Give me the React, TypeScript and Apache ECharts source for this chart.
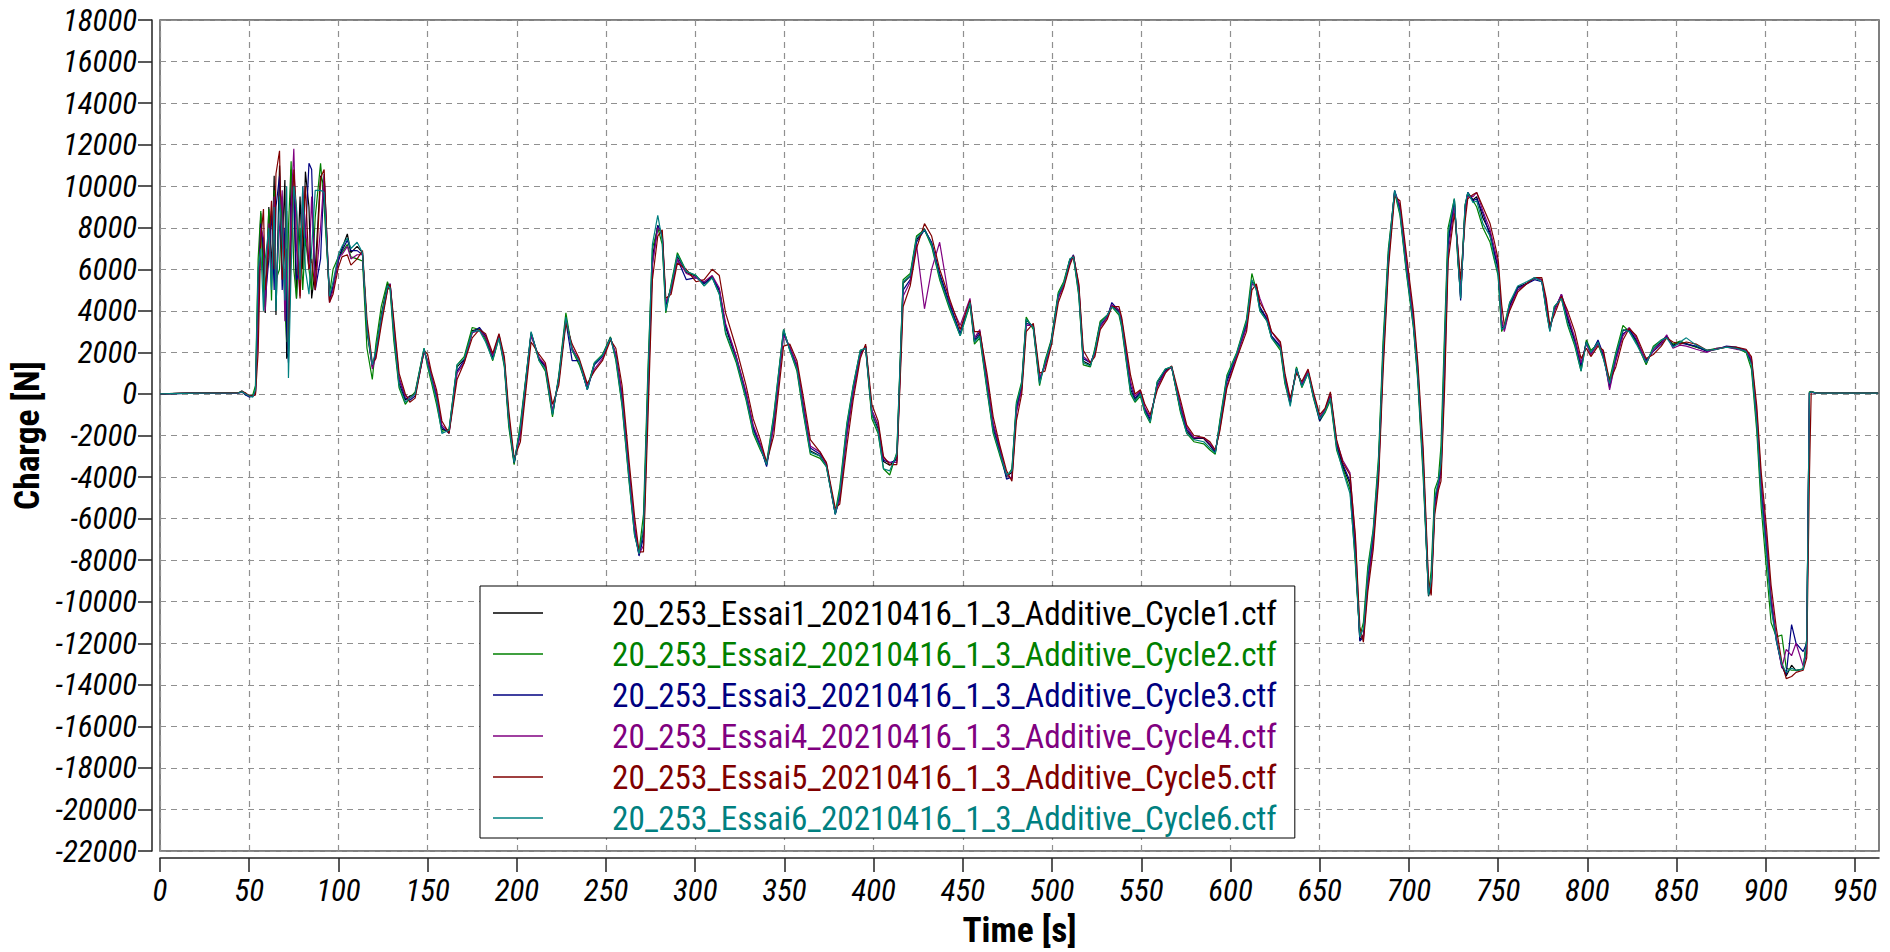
import React, { useEffect, useRef } from "react";
import * as echarts from "echarts";

// ---------- data ----------
const timeS: number[] = [
  0, 20, 44, 46, 48, 50, 52, 53.5, 55, 56.5,
  58, 59, 61, 62.5, 64, 65, 67, 68.5, 70, 71,
  72, 73.5, 75, 76.5, 78.5, 80, 81.5, 83.5, 85, 87,
  90, 92, 95, 97, 100, 102, 105, 107, 110.5, 113.5,
  116, 119, 121, 124, 127.5, 129, 131, 134, 137.5, 140,
  143, 148, 150, 152, 155, 158, 162, 166.5, 170.5, 175,
  179, 182.5, 186.5, 190, 193, 195.5, 198.5, 202, 208, 212.5,
  216, 220, 223.5, 227.5, 231, 235, 239.5, 243.5, 248, 252.5,
  255.5, 259, 263, 266, 268.5, 271, 273.5, 276, 279, 281.5,
  283.5, 286.5, 290, 295, 300.5, 305, 309.5, 313.5, 317, 323,
  328.5, 332.5, 336.5, 340, 344, 349.5, 353, 357, 360.5, 364.5,
  370, 373.5, 378.5, 381, 385, 388.5, 392.5, 395.5, 399, 402.5,
  405.5, 409, 413, 416.5, 420.5, 424, 428.5, 432.5, 437, 442.5,
  448.5, 454, 456.5, 459.5, 463.5, 467, 470.5, 474.5, 477.5, 480,
  483, 485.5, 489.5, 493, 496, 499.5, 503.5, 506.5, 510, 512,
  515, 517.5, 521.5, 524, 527, 531, 533.5, 537.5, 539, 544,
  546.5, 549.5, 552, 555, 559, 563.5, 567, 572, 575.5, 579.5,
  585, 588.5, 591.5, 594, 598, 603.5, 609, 612, 614.5, 616.5,
  620.5, 623, 628, 630.5, 633.5, 637, 640, 643.5, 646.5, 650,
  653, 656, 659.5, 663, 667, 670, 672.5, 674.5, 677, 680,
  683, 685.5, 688.5, 692, 695, 698.5, 702.5, 705, 708, 711,
  712.5, 714.5, 716.5, 718, 720, 722, 725.5, 727.5, 729, 731.5,
  733, 736, 738, 741.5, 745.5, 748, 750, 752, 753.5, 756.5,
  761, 766, 770.5, 774.5, 777, 779, 781.5, 785.5, 789, 793,
  796.5, 799.5, 802, 806, 809, 812.5, 816, 820, 823.5, 827.5,
  833, 837, 841.5, 844.5, 848, 852, 855.5, 861, 867, 872.5,
  878, 883.5, 889, 892, 895, 897.5, 900.5, 903, 906, 909,
  911.5, 914.5, 917, 921, 923, 924.5, 925.5, 928.5, 963,
];

const cycle1: number[] = [
  0, 40, 50, 150, 0, -100, -100, 100, 5000, 8700,
  6000, 3900, 9000, 6000, 10500, 3800, 11000, 7000, 10300, 1700,
  2000, 10800, 9500, 4600, 9500, 6000, 10700, 9000, 4600, 6000,
  10500, 10000, 4500, 5200, 6500, 7000, 7700, 6800, 7100, 6800,
  3000, 1300, 2000, 3800, 5300, 5200, 3000, 500, -300, -100,
  0, 2150, 1500, 800, -200, -1700, -1800, 1300, 1650, 3050,
  3130, 2700, 1730, 2780, 1470, -1330, -3340, -1680, 2960, 1650,
  1300, -980, 770, 3660, 2170, 1560, 245, 1470, 1820, 2700,
  1820, -280, -3955, -6580, -7720, -6580, 420, 6545, 8120, 7600,
  4270, 5145, 6630, 5845, 5670, 5320, 5670, 4970, 3220, 1650,
  -50, -1680, -2555, -3430, -1330, 3045, 2170, 1295, -630, -2730,
  -2990, -3430, -5790, -4830, -1680, 245, 1995, 2260, -980, -1680,
  -3255, -3430, -3080, 5320, 5670, 7420, 7945, 7245, 5670, 4270,
  2870, 4445, 2520, 2870, 420, -1680, -2730, -3955, -3780, -630,
  420, 3570, 3220, 595, 1470, 2520, 4795, 5280, 6465, 6630,
  4945, 1570, 1400, 2075, 3425, 3765, 4270, 3930, 3425, 220,
  -290, 50, -790, -1300, 555, 1150, 1315, -790, -1800, -2145,
  -2145, -2480, -2820, -1470, 725, 1905, 3425, 5450, 5115, 4100,
  3595, 2750, 2245, 725, -455, 1230, 390, 1065, -120, -1130,
  -790, -120, -2480, -3495, -4340, -7715, -11850, -11600, -8895, -6870,
  -3495, 1905, 6635, 9760, 8830, 6130, 3425, 895, -3495, -9740,
  -9235, -5180, -4340, -3500, 2000, 7400, 9345, 6545, 4620, 9000,
  9695, 9345, 9500, 8470, 7770, 6720, 6020, 3220, 3130, 4270,
  5145, 5320, 5580, 5495, 4095, 3045, 4095, 4710, 3570, 2520,
  1295, 2520, 1995, 2520, 1820, 420, 1820, 3045, 3130, 2520,
  1470, 2170, 2520, 2780, 2345, 2520, 2430, 2260, 2080, 2170,
  2260, 2200, 2080, 1470, -1330, -4830, -7455, -10080, -11830, -13055,
  -13580, -13055, -13320, -13230, -11830, 70, 105, 35, 35,
];

const cycle2: number[] = [
  0, 50, 60, 100, -50, -100, -50, 400, 6500, 8800,
  5000, 4200, 8900, 4500, 9800, 5500, 6000, 9500, 4200, 2500,
  8000, 11200, 6000, 4600, 8000, 5000, 7500, 6000, 5000, 8500,
  11100, 9000, 4800, 6000, 6600, 6800, 7200, 6600, 6500, 6400,
  2200, 700, 2400, 4200, 5400, 5000, 2600, 300, -500, -200,
  100, 2200, 1300, 600, -500, -1800, -1700, 1400, 1800, 3200,
  3100, 2600, 1600, 2700, 1300, -1600, -3400, -1400, 2900, 1600,
  1100, -1100, 900, 3900, 2100, 1400, 300, 1500, 1900, 2750,
  1600, -600, -4300, -6800, -7600, -5800, 1200, 7000, 8000, 7200,
  3900, 5300, 6800, 5900, 5700, 5200, 5600, 4800, 2900, 1500,
  -300, -1900, -2700, -3300, -1000, 3100, 2100, 1100, -900, -2900,
  -3100, -3500, -5700, -4500, -1400, 400, 2100, 2200, -1200, -1900,
  -3600, -3900, -2800, 5500, 5800, 7600, 7900, 7100, 5500, 4100,
  2800, 4300, 2400, 2700, 200, -1900, -2900, -4000, -3600, -400,
  600, 3700, 3100, 400, 1600, 2600, 4900, 5400, 6500, 6600,
  4700, 1400, 1300, 2200, 3500, 3800, 4200, 3800, 3200, 0,
  -400, -100, -900, -1400, 600, 1200, 1300, -900, -1900, -2300,
  -2400, -2700, -2900, -1300, 900, 2000, 3600, 5800, 5000, 4000,
  3500, 2700, 2100, 500, -500, 1300, 300, 1000, -200, -1300,
  -900, -300, -2700, -3600, -4600, -8200, -11700, -11000, -8300, -6500,
  -3000, 2500, 7000, 9700, 8600, 5900, 3200, 600, -4000, -9600,
  -8500, -4600, -4100, -2500, 3000, 8000, 9400, 6300, 5000, 9100,
  9600, 9300, 9000, 8000, 7300, 6400, 5700, 3000, 3300, 4400,
  5000, 5300, 5600, 5500, 4000, 3100, 4200, 4600, 3300, 2300,
  1100, 2600, 2100, 2400, 1700, 700, 2000, 3300, 3000, 2500,
  1400, 2300, 2600, 2750, 2400, 2550, 2400, 2250, 2100, 2200,
  2250, 2200, 2000, 1200, -1800, -5500, -8500, -11000, -11700, -11600,
  -13200, -13300, -13300, -13250, -11800, 100, 120, 40, 40,
];

const cycle3: number[] = [
  0, 40, 50, 100, -50, -150, -100, 50, 3500, 8200,
  7000, 4500, 6500, 8800, 5000, 9000, 10500, 5000, 8000, 3000,
  1500, 9000, 10000, 5500, 6000, 9500, 7500, 11100, 10800, 5000,
  6500, 10600, 4700, 5100, 6400, 6900, 7400, 6900, 6900, 6700,
  3200, 1400, 1900, 3600, 5100, 5300, 3200, 700, -200, -300,
  -100, 2050, 1600, 900, -100, -1600, -1900, 1100, 1600, 2950,
  3200, 2800, 1800, 2850, 1550, -1200, -3300, -1800, 2900, 1700,
  1350, -900, 700, 3500, 1600, 1600, 200, 1400, 1800, 2700,
  1900, -100, -3900, -6600, -7800, -6900, 0, 6300, 8100, 7700,
  4300, 5000, 6500, 5500, 5600, 5300, 5600, 5000, 3300, 1800,
  0, -1600, -2500, -3500, -1500, 2900, 2200, 1400, -500, -2600,
  -2900, -3300, -5800, -5000, -1900, 100, 1900, 2300, -800, -1500,
  -3200, -3300, -3200, 5000, 5500, 7300, 7900, 7300, 5800, 4400,
  2900, 4500, 2600, 3000, 600, -1500, -2600, -4100, -4000, -800,
  300, 3400, 3300, 700, 1400, 2500, 4700, 5200, 6400, 6700,
  5100, 1700, 1500, 2000, 3300, 3700, 4400, 4000, 3500, 400,
  -200, 100, -700, -1200, 400, 1100, 1300, -600, -1700, -2100,
  -2100, -2400, -2800, -1600, 600, 1850, 3300, 5300, 5200, 4200,
  3600, 2800, 2300, 800, -400, 1200, 450, 1100, -50, -1300,
  -800, -50, -2400, -3400, -4200, -7400, -11900, -11700, -9000, -7000,
  -3700, 1700, 6500, 9800, 9000, 6300, 3500, 1000, -3300, -9600,
  -9300, -5300, -4400, -3700, 1500, 7200, 9200, 6700, 4500, 8900,
  9700, 9300, 9400, 8700, 7600, 6800, 6100, 3400, 3100, 4200,
  5100, 5300, 5500, 5400, 4300, 3200, 4000, 4800, 3700, 2600,
  1400, 2500, 1900, 2600, 1900, 300, 1700, 2900, 3100, 2600,
  1600, 2050, 2400, 2800, 2300, 2450, 2400, 2300, 2050, 2150,
  2300, 2250, 2100, 1600, -1100, -4600, -7300, -9900, -11900, -13100,
  -13500, -11100, -12000, -12400, -12000, 50, 90, 30, 30,
];

const cycle4: number[] = [
  0, 40, 50, 80, 0, -100, -100, 0, 4000, 8000,
  7500, 4000, 8200, 5500, 9500, 5000, 8000, 9800, 3500, 7000,
  2500, 9000, 11800, 7000, 4700, 10000, 8000, 6000, 9500, 5000,
  8000, 10500, 4400, 5000, 6600, 6700, 7100, 6500, 6700, 6700,
  3300, 1200, 1800, 3500, 5000, 5300, 3400, 800, -100, -200,
  0, 2050, 1600, 950, 0, -1500, -1850, 1000, 1500, 2950,
  3050, 2750, 1850, 2800, 1600, -1100, -3200, -2000, 2800, 1750,
  1400, -800, 600, 3600, 2200, 1600, 400, 1200, 1700, 2650,
  1900, 0, -3700, -6300, -7700, -7300, -300, 6200, 8000, 7800,
  4400, 5000, 6500, 5800, 5600, 5400, 5700, 5100, 3400, 1800,
  100, -1500, -2400, -3300, -1600, 2800, 2300, 1400, -400, -2500,
  -2800, -3400, -5700, -5100, -2000, 0, 1850, 2300, -800, -1500,
  -3100, -3300, -3300, 4700, 5400, 7200, 4100, 6000, 7300, 4450,
  3300, 4600, 2700, 3100, 700, -1400, -2500, -3900, -4100, -900,
  200, 3300, 3300, 800, 1300, 2400, 4600, 5200, 6300, 6650,
  5200, 1800, 1500, 1900, 3200, 3700, 4300, 4050, 3600, 600,
  -100, 150, -650, -1100, 350, 1050, 1300, -500, -1600, -2100,
  -2100, -2400, -2700, -1700, 400, 1800, 3200, 5300, 5200, 4600,
  3700, 3000, 2400, 900, -300, 1100, 500, 1100, 0, -1100,
  -750, 0, -2300, -3200, -3800, -7000, -11600, -11800, -9200, -7200,
  -3900, 1400, 6300, 9700, 9100, 6500, 3700, 1200, -3000, -9300,
  -9600, -5500, -4500, -3900, 800, 6800, 9000, 7000, 4800, 8700,
  9500, 9500, 9700, 8800, 7900, 7000, 6300, 3600, 3000, 4100,
  5000, 5300, 5600, 5500, 4400, 3100, 4000, 4800, 3800, 2700,
  1500, 2400, 1900, 2400, 2000, 200, 1600, 2800, 3200, 2700,
  1500, 2100, 2450, 2850, 2200, 2350, 2300, 2150, 2000, 2200,
  2250, 2150, 2100, 1700, -900, -4200, -7000, -9700, -11700, -13200,
  -12300, -12600, -12000, -13100, -12500, 50, 80, 30, 30,
];

const cycle5: number[] = [
  0, 50, 60, 120, 50, -80, -100, -50, 2000, 7500,
  8900, 5000, 7000, 9300, 6000, 10600, 11700, 5500, 7000, 8800,
  2000, 7000, 10800, 8800, 4600, 8000, 10000, 6000, 6500, 5000,
  10400, 10800, 4400, 4800, 6100, 6600, 6700, 6200, 6500, 6900,
  3600, 1500, 1700, 3300, 5000, 5250, 3600, 1000, 0, -400,
  -200, 2100, 1900, 1100, 200, -1300, -1900, 700, 1500, 2700,
  3100, 2900, 1950, 2900, 1800, -800, -3100, -2300, 2500, 1900,
  1500, -500, 400, 3400, 2400, 1700, 500, 1100, 1600, 2600,
  2200, 400, -3300, -5900, -7600, -7600, -1200, 5500, 7600, 7900,
  4600, 4800, 6300, 6000, 5400, 5500, 6000, 5700, 3900, 2200,
  400, -1200, -2200, -3300, -2000, 2300, 2400, 1600, -100, -2200,
  -2800, -3300, -5500, -5300, -2500, -300, 1700, 2400, -500, -1300,
  -3000, -3400, -3400, 4200, 5200, 7000, 8200, 7600, 6000, 4600,
  3100, 4500, 3000, 3000, 1000, -1100, -2400, -3700, -4200, -1300,
  0, 3000, 3400, 1000, 1100, 2300, 4400, 5100, 6200, 6650,
  5300, 2100, 1500, 1800, 3100, 3600, 4200, 4200, 3700, 900,
  0, 200, -500, -1000, 200, 1000, 1350, -300, -1500, -2000,
  -2100, -2300, -2700, -1800, 300, 1700, 3000, 5000, 5300, 4400,
  3800, 3000, 2500, 1000, -200, 1000, 600, 1200, 100, -1000,
  -700, 100, -2200, -3300, -3900, -6800, -11200, -11950, -9500, -7500,
  -4200, 1000, 6000, 9500, 9300, 6800, 4000, 1500, -2600, -9000,
  -9700, -5800, -4650, -4200, 200, 6400, 8700, 7000, 5500, 8300,
  9400, 9600, 9700, 9000, 8200, 7300, 6500, 4300, 3300, 4000,
  4900, 5300, 5600, 5600, 4600, 3300, 3800, 4700, 4000, 3000,
  1700, 2200, 1800, 2300, 2100, 600, 1300, 2600, 3150, 2800,
  1700, 1900, 2300, 2700, 2500, 2400, 2500, 2400, 2100, 2150,
  2250, 2250, 2150, 1800, -600, -3800, -6500, -9200, -11300, -12900,
  -13700, -13600, -13400, -13300, -12700, -4000, 100, 40, 40,
];

const cycle6: number[] = [
  0, 40, 50, 100, 0, -100, -150, 200, 6000, 7000,
  4000, 6500, 8000, 5000, 9000, 4000, 9500, 7500, 4500, 10000,
  770, 6000, 10000, 9000, 5500, 10000, 6000, 4800, 7000, 9800,
  9800, 9700, 4700, 5400, 6700, 7100, 7500, 7000, 7300, 6800,
  3100, 1400, 2100, 3700, 5200, 5100, 2900, 400, -400, -200,
  0, 2200, 1400, 750, -300, -1900, -1750, 1400, 1700, 3000,
  3050, 2500, 1650, 2700, 1400, -1400, -3300, -1600, 3000, 1600,
  1200, -1000, 800, 3700, 2100, 1550, 200, 1500, 1850, 2700,
  1700, -500, -4200, -6800, -7700, -6400, 800, 7200, 8600, 7400,
  4000, 5200, 6700, 5900, 5700, 5200, 5600, 4800, 3000, 1600,
  -200, -1800, -2600, -3400, -1100, 3100, 2100, 1200, -800, -2800,
  -3000, -3500, -5800, -4700, -1500, 350, 2100, 2200, -1000, -1800,
  -3600, -3700, -2900, 5400, 5700, 7500, 7900, 7200, 5600, 4200,
  2800, 4400, 2500, 2800, 300, -1800, -2800, -3900, -3700, -500,
  500, 3600, 3200, 500, 1500, 2500, 4800, 5300, 6500, 6600,
  4800, 1500, 1350, 2100, 3400, 3800, 4200, 3900, 3300, 100,
  -350, 0, -850, -1350, 600, 1200, 1300, -800, -1900, -2200,
  -2300, -2600, -2850, -1400, 800, 1950, 3500, 5500, 5000, 4000,
  3500, 2700, 2200, 600, -600, 1250, 350, 1000, -150, -1200,
  -850, -200, -2600, -3700, -4800, -8000, -11700, -11300, -8600, -6600,
  -3300, 2100, 6800, 9800, 8700, 6000, 3300, 800, -3700, -9700,
  -9000, -5000, -4200, -3300, 2500, 7700, 9400, 6400, 4600, 9100,
  9700, 9200, 9300, 8200, 7600, 6500, 5800, 3100, 3200, 4400,
  5200, 5400, 5600, 5400, 4000, 3000, 4200, 4600, 3400, 2400,
  1100, 2500, 2000, 2500, 1700, 500, 1900, 3100, 3000, 2400,
  1500, 2200, 2600, 2700, 2250, 2500, 2700, 2350, 2100, 2150,
  2250, 2200, 2050, 1400, -1500, -5000, -7800, -10300, -11900, -13000,
  -13400, -13200, -13300, -13250, -11900, 60, 100, 40, 40,
];

const seriesNames: string[] = [
  "20_253_Essai1_20210416_1_3_Additive_Cycle1.ctf",
  "20_253_Essai2_20210416_1_3_Additive_Cycle2.ctf",
  "20_253_Essai3_20210416_1_3_Additive_Cycle3.ctf",
  "20_253_Essai4_20210416_1_3_Additive_Cycle4.ctf",
  "20_253_Essai5_20210416_1_3_Additive_Cycle5.ctf",
  "20_253_Essai6_20210416_1_3_Additive_Cycle6.ctf",
];
const seriesColors: string[] = ["#000000", "#008000", "#000080", "#800080", "#800000", "#008080"];
const xTickValues: number[] = [0, 50, 100, 150, 200, 250, 300, 350, 400, 450, 500, 550, 600, 650, 700, 750, 800, 850, 900, 950];
const xAxisTitle = "Time [s]";
const yAxisTitle = "Charge [N]";

const FONT_CANDIDATES = [
  "Liberation Sans Narrow",
  "Arial Narrow",
  "Noto Sans Condensed",
  "Roboto Condensed",
  "Liberation Sans",
];

function fontAvailable(name: string): boolean {
  const ctx = document.createElement("canvas").getContext("2d");
  if (!ctx) return false;
  const sample = "mmmmmwwwllii10_2WQ@#";
  for (const base of ["monospace", "serif", "sans-serif"]) {
    ctx.font = `40px ${base}`;
    const w0 = ctx.measureText(sample).width;
    ctx.font = `40px '${name}', ${base}`;
    const w1 = ctx.measureText(sample).width;
    if (Math.abs(w0 - w1) > 0.01) return true;
  }
  return false;
}

function fitSize(family: string, text: string, style: string, targetWidth: number, maxSize: number): number {
  const ctx = document.createElement("canvas").getContext("2d");
  if (!ctx) return maxSize;
  ctx.font = `${style} 100px '${family}', sans-serif`;
  const w = ctx.measureText(text).width / 100;
  if (!w) return maxSize;
  return Math.min(maxSize, Math.round((targetWidth / w) * 10) / 10);
}

export default function App() {
  const ref = useRef<HTMLDivElement>(null);
  useEffect(() => {
    if (!ref.current) return;
    const family = FONT_CANDIDATES.find((f) => fontAvailable(f)) || "Liberation Sans";
    const FF = `'${family}', 'Liberation Sans', sans-serif`;
    const tickSize = fitSize(family, "18000", "italic", 74, 33);
    const legendSize = fitSize(family, seriesNames[0], "", 665, 35);
    const nameSize = fitSize(family, yAxisTitle, "bold", 149, 36);

    const chart = echarts.init(ref.current, undefined, { renderer: "svg" });
    const allSeries = [cycle1, cycle2, cycle3, cycle4, cycle5, cycle6];
    chart.setOption({
      animation: false,
      backgroundColor: "#ffffff",
      grid: {
        left: 160,
        top: 20,
        right: 11,
        bottom: 101,
        show: true,
        containLabel: false,
        outerBoundsMode: "none",
        borderColor: "#555555",
        borderWidth: 1.5,
        backgroundColor: "transparent",
      },
      legend: {
        orient: "vertical",
        left: 480,
        top: 586,
        padding: [10, 18, 3, 13],
        itemGap: 7,
        itemWidth: 50,
        itemHeight: 1.5,
        icon: "rect",
        backgroundColor: "#ffffff",
        borderColor: "#000000",
        borderWidth: 1,
        borderRadius: 0,
        textStyle: {
          fontFamily: FF,
          fontSize: legendSize,
          lineHeight: 34,
          padding: [0, 0, 0, 64],
        },
        data: seriesNames.map((n, i) => ({
          name: n,
          textStyle: { color: seriesColors[i] },
        })),
      },
      xAxis: {
        type: "value",
        min: 0,
        max: 963.5,
        interval: 50,
        offset: 7,
        name: xAxisTitle,
        nameLocation: "middle",
        nameGap: 54,
        nameTextStyle: { fontFamily: FF, fontSize: nameSize, fontWeight: "bold", color: "#000" },
        axisLine: { show: true, onZero: false, lineStyle: { color: "#222", width: 1.5 } },
        axisTick: { show: true, length: 14, customValues: xTickValues, lineStyle: { color: "#222", width: 1.5 } },
        axisLabel: {
          customValues: xTickValues,
          margin: 17,
          fontFamily: FF,
          fontStyle: "italic",
          fontSize: tickSize,
          color: "#000",
          formatter: (v: number) => String(v),
        },
        splitLine: { show: true, lineStyle: { color: "#909090", type: [6, 5], width: 1.2 } },
      },
      yAxis: {
        type: "value",
        min: -22000,
        max: 18000,
        interval: 2000,
        offset: 8,
        name: yAxisTitle,
        nameLocation: "middle",
        nameGap: 106,
        nameRotate: 90,
        nameTextStyle: { fontFamily: FF, fontSize: nameSize, fontWeight: "bold", color: "#000" },
        axisLine: { show: true, onZero: false, lineStyle: { color: "#222", width: 1.5 } },
        axisTick: { show: true, length: 14, lineStyle: { color: "#222", width: 1.5 } },
        axisLabel: {
          margin: 15,
          fontFamily: FF,
          fontStyle: "italic",
          fontSize: tickSize,
          color: "#000",
          formatter: (v: number) => String(v),
        },
        splitLine: { show: true, lineStyle: { color: "#909090", type: [6, 5], width: 1.2 } },
      },
      series: allSeries.map((vals, i) => ({
        name: seriesNames[i],
        type: "line",
        symbol: "none",
        showSymbol: false,
        lineStyle: { width: 1.2, color: seriesColors[i] },
        itemStyle: { color: seriesColors[i] },
        data: timeS.map((t, k) => [t, vals[k]]).filter((p) => p[1] !== undefined),
      })),
    });
    return () => chart.dispose();
  }, []);
  return (
    <div
      ref={ref}
      style={{ position: "absolute", left: 0, top: 0, width: 1890, height: 952, background: "#fff" }}
    />
  );
}
